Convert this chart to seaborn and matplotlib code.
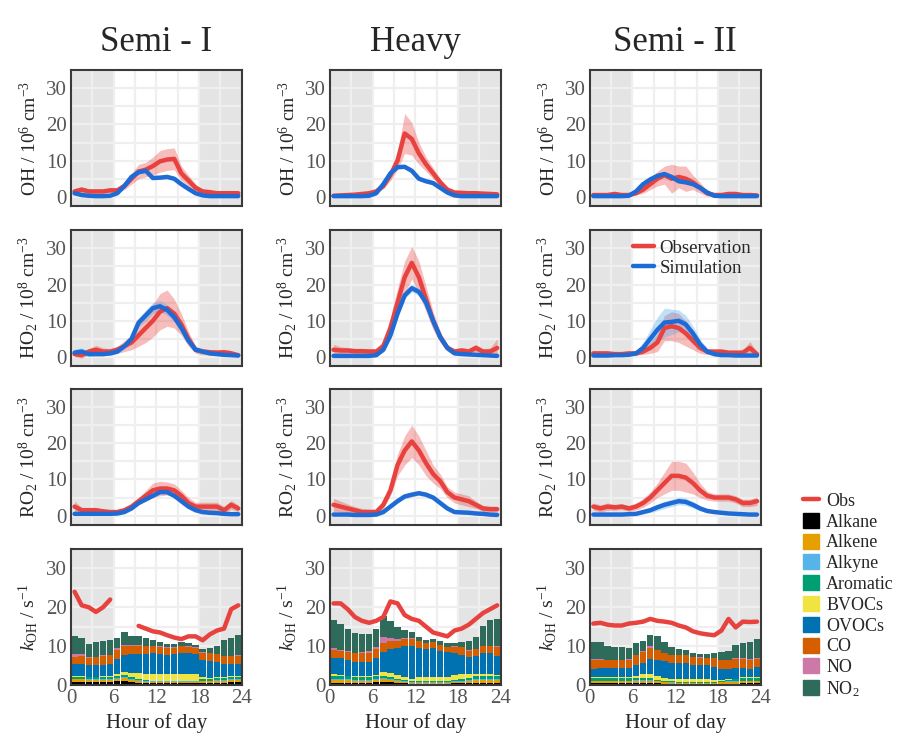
import matplotlib
matplotlib.use("Agg")
import matplotlib.pyplot as plt
import matplotlib.patches as mpatches
from matplotlib.lines import Line2D
import numpy as np
import pandas as pd
import seaborn as sns

# ---- data (hourly means, bins centred on the half hour) ----
hours = np.arange(24) + 0.5
columns = ["Semi - I", "Heavy", "Semi - II"]

# OH / 1e6 cm-3
oh_semi1_obs = [1.5, 2.0, 1.5, 1.5, 1.5, 1.8, 1.8, 3.0, 5.0, 7.0, 7.5, 8.5, 9.8, 10.3, 10.5, 6.5, 4.5, 2.5, 1.5, 1.3, 1.0, 1.0, 1.0, 1.0]
oh_semi1_obs_err = [0.8, 0.8, 0.5, 0.5, 0.5, 0.5, 0.5, 1.0, 1.5, 2.0, 2.0, 2.5, 3.0, 3.0, 3.0, 2.0, 1.5, 1.0, 0.5, 0.5, 0.5, 0.8, 0.5, 0.5]
oh_semi1_sim = [1.0, 0.5, 0.3, 0.2, 0.2, 0.3, 1.0, 3.0, 5.5, 6.8, 7.2, 5.2, 5.3, 5.5, 5.0, 3.5, 2.2, 1.0, 0.4, 0.2, 0.2, 0.2, 0.2, 0.2]
oh_semi1_sim_err = [0.2, 0.2, 0.2, 0.2, 0.2, 0.2, 0.2, 0.3, 0.4, 0.5, 0.5, 0.4, 0.4, 0.4, 0.4, 0.3, 0.2, 0.2, 0.2, 0.2, 0.2, 0.2, 0.2, 0.2]

oh_heavy_obs = [0.3, 0.4, 0.5, 0.6, 0.8, 1.0, 1.5, 3.0, 6.0, 10.0, 17.5, 16.0, 12.0, 9.0, 6.5, 4.0, 2.0, 1.2, 1.1, 1.0, 1.0, 0.9, 0.8, 0.7]
oh_heavy_obs_err = [0.3, 0.3, 0.3, 0.3, 0.3, 0.3, 0.4, 0.8, 1.5, 2.5, 5.5, 4.5, 3.0, 2.0, 1.5, 1.0, 0.6, 0.5, 0.5, 0.5, 0.5, 0.5, 0.4, 0.4]
oh_heavy_sim = [0.2, 0.2, 0.2, 0.2, 0.2, 0.3, 1.0, 3.5, 6.5, 8.2, 8.3, 7.2, 5.0, 4.3, 3.8, 2.5, 1.2, 0.4, 0.2, 0.2, 0.2, 0.2, 0.2, 0.2]
oh_heavy_sim_err = [0.2, 0.2, 0.2, 0.2, 0.2, 0.2, 0.2, 0.3, 0.4, 0.5, 0.5, 0.4, 0.3, 0.3, 0.3, 0.2, 0.2, 0.2, 0.2, 0.2, 0.2, 0.2, 0.2, 0.2]

oh_semi2_obs = [0.5, 0.5, 0.5, 0.8, 0.5, 0.5, 1.0, 2.0, 3.5, 5.0, 6.0, 5.0, 5.5, 5.0, 4.0, 2.5, 1.0, 0.5, 0.5, 0.8, 0.8, 0.5, 0.5, 0.4]
oh_semi2_obs_err = [0.4, 0.4, 0.4, 0.5, 0.3, 0.3, 0.5, 1.0, 1.5, 2.0, 2.5, 4.0, 3.0, 3.5, 2.0, 1.5, 0.8, 0.4, 0.4, 0.5, 0.5, 0.4, 0.4, 0.3]
oh_semi2_sim = [0.2, 0.2, 0.2, 0.2, 0.2, 0.3, 1.5, 3.5, 4.8, 5.8, 6.3, 5.5, 4.3, 4.0, 3.5, 2.5, 1.2, 0.3, 0.2, 0.2, 0.2, 0.2, 0.2, 0.2]
oh_semi2_sim_err = [0.2, 0.2, 0.2, 0.2, 0.2, 0.2, 0.3, 0.4, 0.5, 0.6, 0.6, 0.5, 0.4, 0.4, 0.4, 0.3, 0.2, 0.2, 0.2, 0.2, 0.2, 0.2, 0.2, 0.2]

# HO2 / 1e8 cm-3
ho2_semi1_obs = [0.8, 0.5, 1.5, 2.0, 1.5, 1.5, 2.0, 3.0, 4.0, 6.0, 8.0, 10.0, 12.5, 13.5, 12.0, 9.0, 5.0, 2.0, 1.5, 1.3, 1.2, 1.3, 1.0, 0.5]
ho2_semi1_obs_err = [0.8, 0.8, 0.8, 1.2, 1.0, 0.8, 1.0, 1.5, 2.0, 3.0, 4.0, 4.5, 5.0, 5.0, 4.0, 3.0, 2.0, 1.0, 0.8, 0.8, 0.8, 0.8, 0.8, 0.5]
ho2_semi1_sim = [1.2, 1.5, 0.8, 0.8, 0.8, 1.0, 1.5, 3.0, 5.0, 9.5, 11.5, 13.5, 14.0, 13.0, 11.0, 8.0, 4.5, 2.0, 1.5, 1.0, 0.8, 0.6, 0.5, 0.4]
ho2_semi1_sim_err = [1.0, 1.0, 0.7, 0.5, 0.5, 0.5, 0.6, 0.8, 1.0, 1.2, 1.5, 1.5, 1.5, 1.5, 1.3, 1.0, 0.8, 0.5, 0.4, 0.3, 0.3, 0.3, 0.3, 0.3]

ho2_heavy_obs = [2.0, 1.8, 1.8, 1.6, 1.6, 1.5, 1.5, 3.0, 8.0, 15.0, 22.0, 26.0, 22.0, 16.0, 10.0, 5.5, 2.5, 1.5, 1.8, 1.5, 2.5, 1.5, 1.5, 2.5]
ho2_heavy_obs_err = [1.5, 1.0, 0.8, 0.8, 0.8, 0.8, 0.8, 1.5, 3.0, 4.0, 4.5, 4.5, 4.5, 3.5, 2.5, 1.5, 1.0, 0.8, 0.8, 0.8, 1.0, 0.8, 1.0, 2.5]
ho2_heavy_sim = [0.3, 0.3, 0.3, 0.3, 0.3, 0.3, 0.5, 2.0, 6.0, 12.0, 17.0, 19.0, 18.0, 15.0, 10.0, 5.5, 2.5, 1.0, 0.8, 0.7, 0.6, 0.5, 0.4, 0.3]
ho2_heavy_sim_err = [0.3, 0.3, 0.3, 0.3, 0.3, 0.3, 0.3, 0.5, 0.8, 1.0, 1.0, 1.0, 1.0, 0.8, 0.8, 0.5, 0.3, 0.3, 0.3, 0.3, 0.3, 0.3, 0.3, 0.3]

ho2_semi2_obs = [1.0, 1.0, 1.0, 0.8, 0.8, 1.0, 1.0, 1.5, 2.5, 4.0, 8.0, 8.5, 8.0, 6.5, 4.5, 2.5, 1.5, 1.5, 1.5, 1.2, 1.2, 1.2, 2.5, 0.8]
ho2_semi2_obs_err = [0.5, 0.5, 0.5, 0.4, 0.4, 0.4, 0.5, 0.8, 1.5, 2.5, 3.5, 4.0, 4.0, 3.5, 2.5, 1.5, 0.8, 0.6, 0.6, 0.6, 0.6, 0.6, 1.8, 0.5]
ho2_semi2_sim = [0.4, 0.4, 0.4, 0.5, 0.5, 0.6, 1.0, 2.5, 5.0, 7.5, 9.5, 9.7, 10.0, 9.0, 6.5, 3.5, 1.5, 0.8, 0.5, 0.5, 0.4, 0.4, 0.4, 0.4]
ho2_semi2_sim_err = [0.3, 0.3, 0.3, 0.3, 0.3, 0.3, 0.5, 1.5, 2.5, 3.5, 4.0, 3.5, 3.0, 2.5, 2.0, 1.5, 0.8, 0.5, 0.3, 0.3, 0.3, 0.3, 0.3, 0.3]

# RO2 / 1e8 cm-3
ro2_semi1_obs = [2.5, 1.5, 1.5, 1.5, 1.2, 1.0, 1.0, 1.5, 2.5, 4.0, 5.5, 7.0, 7.5, 7.5, 7.0, 5.5, 3.5, 2.5, 2.5, 2.5, 2.5, 1.5, 3.0, 2.0]
ro2_semi1_obs_err = [1.5, 0.8, 0.8, 0.8, 0.6, 0.5, 0.5, 0.6, 0.8, 1.0, 1.5, 2.0, 2.0, 1.8, 1.8, 1.5, 1.5, 1.2, 1.2, 1.2, 1.2, 1.0, 1.2, 1.0]
ro2_semi1_sim = [0.5, 0.5, 0.5, 0.5, 0.5, 0.5, 0.6, 1.0, 2.0, 3.5, 4.5, 5.5, 6.5, 6.5, 5.5, 4.0, 2.5, 1.5, 1.0, 0.8, 0.7, 0.5, 0.4, 0.4]
ro2_semi1_sim_err = [0.3, 0.3, 0.3, 0.3, 0.3, 0.3, 0.3, 0.3, 0.4, 0.5, 0.5, 0.5, 0.5, 0.5, 0.5, 0.4, 0.3, 0.3, 0.3, 0.3, 0.3, 0.3, 0.3, 0.3]

ro2_heavy_obs = [3.0, 2.5, 2.0, 1.5, 1.0, 1.0, 1.0, 3.0, 7.0, 14.0, 18.0, 20.5, 18.0, 14.5, 11.5, 9.5, 6.5, 5.0, 4.5, 4.0, 3.0, 2.0, 1.8, 1.8]
ro2_heavy_obs_err = [1.8, 1.5, 1.2, 1.0, 1.0, 0.8, 0.8, 1.0, 1.5, 3.0, 4.0, 4.5, 4.0, 3.5, 2.5, 2.0, 1.5, 1.5, 1.5, 1.5, 1.0, 0.8, 0.8, 0.8]
ro2_heavy_sim = [0.3, 0.3, 0.3, 0.2, 0.2, 0.2, 0.3, 1.0, 2.5, 4.0, 5.3, 5.8, 6.2, 5.8, 5.0, 3.5, 2.0, 1.0, 0.9, 0.8, 0.6, 0.5, 0.3, 0.2]
ro2_heavy_sim_err = [0.2, 0.2, 0.2, 0.2, 0.2, 0.2, 0.2, 0.3, 0.4, 0.5, 0.6, 0.6, 0.6, 0.6, 0.5, 0.4, 0.3, 0.2, 0.2, 0.2, 0.2, 0.2, 0.2, 0.2]

ro2_semi2_obs = [2.5, 2.0, 2.5, 2.3, 2.5, 2.0, 2.5, 3.5, 5.0, 7.0, 9.0, 11.0, 11.0, 10.5, 9.0, 7.0, 5.5, 5.0, 5.0, 5.0, 4.5, 3.5, 3.5, 4.0]
ro2_semi2_obs_err = [1.0, 1.0, 1.0, 0.8, 0.8, 0.8, 1.0, 1.2, 1.5, 2.0, 3.0, 4.0, 4.0, 4.0, 3.0, 2.0, 1.2, 1.0, 1.0, 1.0, 1.0, 1.0, 1.0, 1.2]
ro2_semi2_sim = [0.3, 0.3, 0.3, 0.3, 0.3, 0.4, 0.5, 1.0, 1.5, 2.3, 3.0, 3.5, 4.0, 3.8, 3.0, 2.0, 1.3, 1.0, 0.8, 0.6, 0.5, 0.4, 0.3, 0.3]
ro2_semi2_sim_err = [0.3, 0.3, 0.3, 0.3, 0.3, 0.3, 0.3, 0.5, 0.7, 0.9, 1.0, 1.0, 1.0, 1.0, 0.9, 0.7, 0.5, 0.3, 0.3, 0.3, 0.3, 0.3, 0.3, 0.3]

# kOH / s-1, observed
koh_semi1_obs = [24.0, 20.5, 20.0, 18.8, 20.0, 22.0, np.nan, np.nan, np.nan, 15.2, 14.5, 13.8, 13.5, 12.8, 12.2, 11.8, 12.5, 12.5, 11.5, 13.0, 14.0, 14.5, 19.5, 20.5]
koh_heavy_obs = [21.0, 21.0, 19.5, 17.5, 16.5, 16.0, 16.5, 17.5, 21.5, 21.0, 18.0, 17.0, 16.5, 15.0, 13.5, 13.0, 12.5, 14.0, 14.5, 15.5, 17.0, 18.5, 19.5, 20.5]
koh_semi2_obs = [15.8, 16.0, 15.5, 15.3, 15.3, 15.8, 16.0, 16.3, 17.0, 16.5, 16.3, 16.0, 15.3, 14.8, 13.8, 13.3, 13.0, 12.8, 14.0, 17.0, 14.8, 16.3, 16.2, 16.3]

# kOH / s-1, calculated contributions
species = ["Alkane", "Alkene", "Alkyne", "Aromatic", "BVOCs", "OVOCs", "CO", "NO", "NO$_2$"]
species_colors = ["#000000", "#E69F00", "#56B4E9", "#009E73", "#F0E442", "#0072B2", "#D55E00", "#CC79A7", "#2F6B5B"]

semi1_alkane = [0.8, 0.8, 0.7, 0.7, 0.7, 0.7, 1.0, 1.1, 0.8, 0.6, 0.5, 0.4, 0.4, 0.4, 0.4, 0.4, 0.4, 0.4, 0.5, 0.5, 0.6, 0.6, 0.7, 0.7]
semi1_alkene = [0.6, 0.6, 0.6, 0.6, 0.6, 0.6, 0.6, 0.6, 0.5, 0.4, 0.3, 0.3, 0.3, 0.3, 0.3, 0.3, 0.3, 0.3, 0.4, 0.4, 0.5, 0.5, 0.6, 0.6]
semi1_alkyne = [0.2, 0.2, 0.2, 0.2, 0.2, 0.2, 0.2, 0.2, 0.2, 0.2, 0.2, 0.2, 0.2, 0.2, 0.2, 0.2, 0.2, 0.2, 0.2, 0.2, 0.2, 0.2, 0.2, 0.2]
semi1_aromatic = [0.5, 0.5, 0.4, 0.4, 0.5, 0.5, 0.6, 0.6, 0.4, 0.3, 0.3, 0.2, 0.2, 0.2, 0.2, 0.2, 0.2, 0.2, 0.3, 0.3, 0.4, 0.4, 0.5, 0.5]
semi1_bvocs = [0.2, 0.2, 0.2, 0.2, 0.2, 0.2, 0.3, 0.8, 1.2, 1.5, 1.6, 1.6, 1.6, 1.7, 1.7, 1.8, 1.8, 1.7, 0.7, 0.4, 0.3, 0.2, 0.2, 0.2]
semi1_ovocs = [3.0, 3.1, 2.9, 2.9, 3.0, 3.1, 3.9, 4.4, 4.8, 5.0, 5.1, 5.4, 5.3, 4.9, 5.1, 5.4, 5.2, 5.2, 4.2, 4.3, 3.9, 3.6, 3.2, 3.2]
semi1_co = [1.9, 2.0, 2.0, 2.1, 2.2, 2.3, 2.5, 2.2, 2.2, 2.1, 1.9, 1.8, 1.8, 1.9, 1.7, 1.6, 1.7, 1.6, 2.0, 2.0, 2.0, 1.9, 2.0, 2.1]
semi1_no = [0.8, 0.6, 0.2, 0.2, 0.2, 0.2, 0.3, 0.5, 0.3, 0.2, 0.1, 0.1, 0.1, 0.1, 0.1, 0.1, 0.1, 0.1, 0.1, 0.1, 0.1, 0.1, 0.1, 0.1]
semi1_no2 = [4.5, 4.2, 3.3, 3.7, 3.6, 3.7, 2.6, 3.1, 2.1, 2.2, 2.0, 1.5, 1.1, 0.8, 0.8, 1.0, 0.9, 0.5, 0.8, 1.3, 2.0, 4.0, 4.5, 5.2]

heavy_alkane = [0.6, 0.6, 0.6, 0.6, 0.6, 0.6, 0.7, 0.8, 0.7, 0.5, 0.4, 0.3, 0.3, 0.3, 0.3, 0.3, 0.3, 0.4, 0.4, 0.5, 0.6, 0.6, 0.6, 0.6]
heavy_alkene = [0.6, 0.6, 0.6, 0.5, 0.5, 0.5, 0.6, 0.7, 0.6, 0.5, 0.4, 0.3, 0.3, 0.3, 0.3, 0.3, 0.3, 0.4, 0.4, 0.5, 0.6, 0.7, 0.7, 0.6]
heavy_alkyne = [0.2, 0.2, 0.2, 0.2, 0.2, 0.2, 0.2, 0.2, 0.2, 0.2, 0.1, 0.1, 0.1, 0.1, 0.1, 0.1, 0.1, 0.1, 0.2, 0.2, 0.2, 0.2, 0.2, 0.2]
heavy_aromatic = [0.9, 0.9, 0.8, 0.8, 0.8, 0.8, 0.7, 0.7, 0.6, 0.4, 0.3, 0.2, 0.2, 0.2, 0.2, 0.2, 0.2, 0.3, 0.4, 0.6, 0.8, 0.9, 0.9, 0.9]
heavy_bvocs = [0.4, 0.3, 0.2, 0.2, 0.2, 0.2, 0.3, 0.8, 1.0, 0.9, 0.8, 0.7, 1.0, 1.1, 1.2, 1.2, 1.2, 1.4, 1.5, 0.9, 0.5, 0.4, 0.4, 0.3]
heavy_ovocs = [4.3, 4.3, 4.0, 3.7, 3.6, 3.6, 4.4, 5.3, 6.1, 6.9, 7.9, 8.5, 7.7, 7.2, 7.4, 6.7, 6.4, 5.7, 4.7, 4.4, 4.8, 5.5, 5.3, 4.9]
heavy_co = [2.1, 1.9, 2.1, 2.1, 2.2, 2.4, 2.3, 2.2, 2.2, 2.0, 1.9, 1.8, 1.6, 1.6, 1.5, 1.5, 1.2, 1.5, 2.1, 1.7, 1.7, 1.6, 1.8, 2.2]
heavy_no = [0.3, 0.3, 0.2, 0.2, 0.3, 0.3, 0.5, 1.6, 0.8, 0.3, 0.2, 0.1, 0.1, 0.1, 0.1, 0.1, 0.1, 0.1, 0.1, 0.1, 0.1, 0.2, 0.2, 0.3]
heavy_no2 = [7.2, 6.6, 5.7, 5.1, 4.6, 4.4, 4.8, 5.4, 4.2, 3.2, 2.1, 1.6, 1.1, 0.7, 0.8, 0.8, 0.9, 1.0, 1.3, 2.5, 3.0, 5.0, 6.5, 7.1]

semi2_alkane = [0.4, 0.4, 0.4, 0.4, 0.4, 0.4, 0.5, 0.5, 0.5, 0.4, 0.3, 0.3, 0.2, 0.2, 0.2, 0.2, 0.2, 0.2, 0.3, 0.3, 0.3, 0.4, 0.4, 0.4]
semi2_alkene = [0.5, 0.5, 0.5, 0.5, 0.5, 0.5, 0.6, 0.6, 0.6, 0.5, 0.4, 0.3, 0.3, 0.3, 0.3, 0.3, 0.3, 0.3, 0.4, 0.4, 0.4, 0.5, 0.5, 0.5]
semi2_alkyne = [0.2, 0.2, 0.2, 0.2, 0.2, 0.2, 0.2, 0.2, 0.2, 0.1, 0.1, 0.1, 0.1, 0.1, 0.1, 0.1, 0.1, 0.1, 0.1, 0.2, 0.2, 0.2, 0.2, 0.2]
semi2_aromatic = [0.6, 0.6, 0.6, 0.6, 0.6, 0.6, 0.5, 0.5, 0.4, 0.3, 0.3, 0.2, 0.2, 0.2, 0.2, 0.2, 0.2, 0.2, 0.3, 0.4, 0.5, 0.6, 0.6, 0.6]
semi2_bvocs = [0.2, 0.2, 0.2, 0.2, 0.2, 0.2, 0.5, 0.9, 1.2, 1.0, 0.7, 0.5, 0.6, 0.7, 0.7, 0.6, 0.6, 0.4, 0.2, 0.2, 0.2, 0.2, 0.2, 0.2]
semi2_ovocs = [2.3, 2.5, 2.5, 2.5, 2.4, 2.4, 2.7, 3.0, 3.8, 4.2, 4.3, 4.3, 4.3, 4.2, 3.6, 3.7, 3.6, 3.4, 2.9, 2.5, 2.8, 2.5, 2.3, 2.7]
semi2_co = [2.3, 2.1, 1.9, 1.9, 2.1, 2.2, 2.7, 2.8, 2.9, 2.4, 2.1, 2.0, 2.0, 2.0, 2.0, 1.9, 1.8, 2.2, 2.1, 2.3, 2.3, 2.3, 2.3, 2.1]
semi2_no = [0.2, 0.1, 0.1, 0.1, 0.1, 0.1, 0.1, 0.2, 0.3, 0.2, 0.1, 0.1, 0.1, 0.1, 0.1, 0.1, 0.1, 0.1, 0.1, 0.1, 0.1, 0.1, 0.1, 0.1]
semi2_no2 = [4.4, 4.5, 3.5, 3.4, 3.3, 3.0, 2.9, 2.7, 3.0, 3.5, 2.8, 2.0, 1.4, 1.3, 1.1, 0.8, 1.0, 1.4, 2.1, 2.3, 3.5, 4.1, 4.5, 4.9]

profiles = {
    "OH": [
        (oh_semi1_obs, oh_semi1_obs_err, oh_semi1_sim, oh_semi1_sim_err),
        (oh_heavy_obs, oh_heavy_obs_err, oh_heavy_sim, oh_heavy_sim_err),
        (oh_semi2_obs, oh_semi2_obs_err, oh_semi2_sim, oh_semi2_sim_err),
    ],
    "HO2": [
        (ho2_semi1_obs, ho2_semi1_obs_err, ho2_semi1_sim, ho2_semi1_sim_err),
        (ho2_heavy_obs, ho2_heavy_obs_err, ho2_heavy_sim, ho2_heavy_sim_err),
        (ho2_semi2_obs, ho2_semi2_obs_err, ho2_semi2_sim, ho2_semi2_sim_err),
    ],
    "RO2": [
        (ro2_semi1_obs, ro2_semi1_obs_err, ro2_semi1_sim, ro2_semi1_sim_err),
        (ro2_heavy_obs, ro2_heavy_obs_err, ro2_heavy_sim, ro2_heavy_sim_err),
        (ro2_semi2_obs, ro2_semi2_obs_err, ro2_semi2_sim, ro2_semi2_sim_err),
    ],
}
koh_obs = [koh_semi1_obs, koh_heavy_obs, koh_semi2_obs]
koh_parts = [
    [semi1_alkane, semi1_alkene, semi1_alkyne, semi1_aromatic, semi1_bvocs, semi1_ovocs, semi1_co, semi1_no, semi1_no2],
    [heavy_alkane, heavy_alkene, heavy_alkyne, heavy_aromatic, heavy_bvocs, heavy_ovocs, heavy_co, heavy_no, heavy_no2],
    [semi2_alkane, semi2_alkene, semi2_alkyne, semi2_aromatic, semi2_bvocs, semi2_ovocs, semi2_co, semi2_no, semi2_no2],
]

ylabels = {
    "OH": "OH / 10$^{6}$ cm$^{-3}$",
    "HO2": "HO$_2$ / 10$^{8}$ cm$^{-3}$",
    "RO2": "RO$_2$ / 10$^{8}$ cm$^{-3}$",
    "kOH": "$k_{\\mathrm{OH}}$ / s$^{-1}$",
}

RED = "#E8423F"
BLUE = "#1F6BD6"
BAND_BLUE = "#4AA8EE"
SPINE = "#3a3a3a"

# ---- style ----
sns.set_theme(style="white", context="notebook")
plt.rcParams["font.family"] = ["Liberation Serif", "DejaVu Serif"]
plt.rcParams["mathtext.fontset"] = "custom"
plt.rcParams["mathtext.rm"] = "Liberation Serif"
plt.rcParams["mathtext.it"] = "Liberation Serif:italic"
plt.rcParams["mathtext.bf"] = "Liberation Serif:bold"


def style_axis(ax, ylim, yticks, bottom_row):
    ax.set_xlim(0, 24)
    ax.set_ylim(*ylim)
    ax.axvspan(0, 6, color="#e4e4e4", lw=0, zorder=0.1)
    ax.axvspan(18, 24, color="#e4e4e4", lw=0, zorder=0.1)
    ax.set_axisbelow(True)
    ax.set_xticks([0, 6, 12, 18, 24])
    ax.set_xticks(np.arange(0, 25, 3), minor=True)
    ax.set_yticks(yticks)
    ax.set_yticks(np.arange(0, 36, 5), minor=True)
    ax.grid(True, which="both", color="#efefef", lw=1.6)
    ax.tick_params(which="major", direction="in", length=10, width=1.4, color=SPINE,
                   labelsize=15, labelcolor="#555555", pad=3)
    ax.tick_params(which="minor", length=0)
    for sp in ax.spines.values():
        sp.set_color(SPINE)
        sp.set_linewidth(1.5)
        sp.set_zorder(5)
    if bottom_row:
        ax.set_xlabel("Hour of day", fontsize=15, labelpad=4)
    else:
        ax.set_xlabel("")
        ax.tick_params(axis="x", labelbottom=False)


fig = plt.figure(figsize=(8.99, 7.38), dpi=100)
lefts = [0.079, 0.367, 0.656]
bottoms = [0.721, 0.504, 0.289, 0.072]
width, height = 0.190, 0.184

rows = ["OH", "HO2", "RO2"]
for r, key in enumerate(rows):
    for c in range(3):
        ax = fig.add_axes([lefts[c], bottoms[r], width, height])
        obs, obs_err, sim, sim_err = [np.asarray(v) for v in profiles[key][c]]
        df = pd.DataFrame({"hour": hours, "obs": obs, "sim": sim})
        ax.fill_between(hours, obs - obs_err, obs + obs_err, color=RED, alpha=0.35, lw=0, zorder=2)
        ax.fill_between(hours, sim - sim_err, sim + sim_err, color=BAND_BLUE, alpha=0.35, lw=0, zorder=2)
        show_leg = (key == "HO2" and c == 2)
        sns.lineplot(data=df, x="hour", y="obs", color=RED, lw=3.2, ax=ax, zorder=3,
                     label="Observation" if show_leg else None, legend=show_leg)
        sns.lineplot(data=df, x="hour", y="sim", color=BLUE, lw=3.2, ax=ax, zorder=4,
                     label="Simulation" if show_leg else None, legend=show_leg)
        style_axis(ax, (-2.5, 35), [0, 10, 20, 30], False)
        ax.set_ylabel(ylabels[key], fontsize=14, labelpad=4)
        if r == 0:
            ax.set_title(columns[c], fontsize=25, pad=14)
        if show_leg:
            ax.legend(loc="upper right", frameon=False, fontsize=13.5, handlelength=1.1,
                      handletextpad=0.3, borderaxespad=0.1, labelspacing=0.15)

# kOH row: stacked bars + observed line
for c in range(3):
    ax = fig.add_axes([lefts[c], bottoms[3], width, height])
    base = np.zeros(24)
    for vals, color in zip(koh_parts[c], species_colors):
        vals = np.asarray(vals)
        ax.bar(hours, vals, bottom=base, width=0.9, color=color, lw=0, zorder=2)
        base = base + vals
    obs = np.asarray(koh_obs[c])
    seg = np.cumsum(np.isnan(obs))
    df = pd.DataFrame({"hour": hours, "kOH": obs, "segment": seg}).dropna()
    sns.lineplot(data=df, x="hour", y="kOH", units="segment", estimator=None,
                 color=RED, lw=3.2, ax=ax, zorder=4, legend=False)
    style_axis(ax, (0, 30), [0, 10, 20, 30], True)
    ax.set_ylabel(ylabels["kOH"], fontsize=14, labelpad=4)

handles = [Line2D([0], [0], color=RED, lw=3.2)]
handles += [mpatches.Patch(color=col) for col in species_colors]
labels = ["Obs"] + species
fig.legend(handles, labels, loc="upper left", bbox_to_anchor=(0.885, 0.343),
           frameon=False, fontsize=13, handlelength=0.9, handleheight=0.9,
           handletextpad=0.4, labelspacing=0.17, borderaxespad=0)

fig.savefig("out.png", dpi=100)
